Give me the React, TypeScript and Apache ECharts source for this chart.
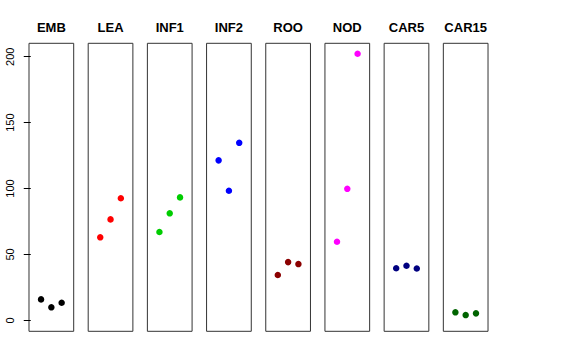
import React, { useEffect, useRef } from "react";
import * as echarts from "echarts";

const panels = ["EMB", "LEA", "INF1", "INF2", "ROO", "NOD", "CAR5", "CAR15"];
const colors = ["#000000", "#FF0000", "#00CD00", "#0000FF", "#8B0000", "#FF00FF", "#000080", "#006400"];
const reps = [1, 2, 3];
const values: number[][] = [
  [15.9, 9.9, 13.4],
  [63.0, 76.6, 92.6],
  [67.0, 81.2, 93.3],
  [121.4, 98.3, 134.7],
  [34.4, 44.2, 42.7],
  [59.6, 99.8, 202.3],
  [39.5, 41.4, 39.3],
  [6.1, 4.0, 5.3],
];
const yTicks = [0, 50, 100, 150, 200];

export default function App() {
  const ref = useRef<HTMLDivElement>(null);
  useEffect(() => {
    if (!ref.current) return;
    const chart = echarts.init(ref.current, undefined, { renderer: "svg" });
    const left0 = 29;
    const step = 59.19;
    const w = 44.7;
    const top = 43.3;
    const h = 288;
    const grids = panels.map((_, i) => ({
      left: left0 + step * i,
      top,
      width: w,
      height: h,
      show: true,
      borderColor: "#333",
      borderWidth: 1,
      backgroundColor: "transparent",
    }));
    const xAxes = panels.map((_, i) => ({
      type: "value",
      gridIndex: i,
      min: -0.17,
      max: 4.17,
      show: false,
    }));
    const yAxes = panels.map((_, i) => ({
      type: "value",
      gridIndex: i,
      min: -8.3,
      max: 210.2,
      show: i === 0,
      splitLine: { show: false },
      axisLine: { show: false },
      axisTick: {
        show: i === 0,
        length: 7,
        customValues: yTicks,
        lineStyle: { color: "#000", width: 1 },
      },
      axisLabel: {
        show: i === 0,
        customValues: yTicks,
        rotate: 90,
        margin: 14,
        color: "#000",
        fontSize: 11,
        fontFamily: "Liberation Sans, Arial, sans-serif",
      },
    }));
    const series = panels.map((_, i) => ({
      type: "scatter",
      xAxisIndex: i,
      yAxisIndex: i,
      symbol: "circle",
      symbolSize: 6.5,
      itemStyle: { color: colors[i], opacity: 1 },
      emphasis: { disabled: true },
      data: reps.map((r, j) => [r, values[i][j]]),
    }));
    const titles = panels.map((p, i) => ({
      text: p,
      left: left0 + step * i + w / 2,
      top: 21,
      textAlign: "center",
      padding: 0,
      textStyle: {
        fontSize: 13,
        fontWeight: "bold",
        color: "#000",
        fontFamily: "Liberation Sans, Arial, sans-serif",
      },
    }));
    chart.setOption({
      animation: false,
      backgroundColor: "#fff",
      title: titles,
      grid: grids,
      xAxis: xAxes,
      yAxis: yAxes,
      series,
    });
    return () => chart.dispose();
  }, []);
  return (
    <div
      ref={ref}
      style={{ position: "absolute", left: 0, top: 0, width: 576, height: 360 }}
    />
  );
}
